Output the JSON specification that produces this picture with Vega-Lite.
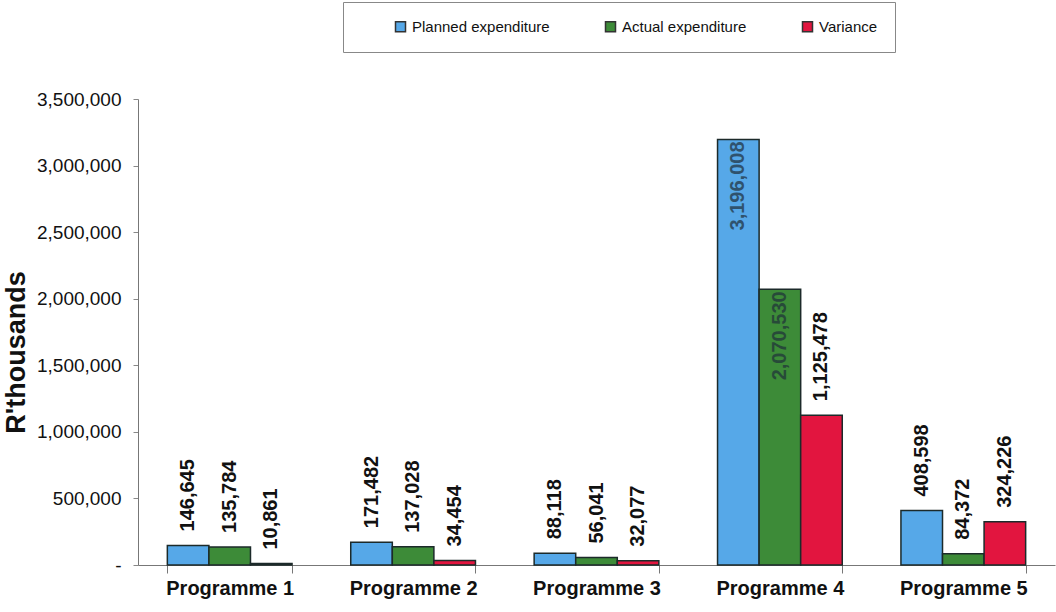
{
  "$schema": "https://vega.github.io/schema/vega-lite/v6.json",
  "width": 917,
  "height": 466,
  "autosize": {"type": "none"},
  "padding": {"left": 138, "top": 99, "right": 1, "bottom": 47},
  "background": "white",
  "config": {
    "view": {"stroke": null},
    "font": "Liberation Sans"
  },
  "data": {
    "values": [
      {"programme": "Programme 1", "series": "Planned expenditure", "value": 146645},
      {"programme": "Programme 1", "series": "Actual expenditure", "value": 135784},
      {"programme": "Programme 1", "series": "Variance", "value": 10861},
      {"programme": "Programme 2", "series": "Planned expenditure", "value": 171482},
      {"programme": "Programme 2", "series": "Actual expenditure", "value": 137028},
      {"programme": "Programme 2", "series": "Variance", "value": 34454},
      {"programme": "Programme 3", "series": "Planned expenditure", "value": 88118},
      {"programme": "Programme 3", "series": "Actual expenditure", "value": 56041},
      {"programme": "Programme 3", "series": "Variance", "value": 32077},
      {"programme": "Programme 4", "series": "Planned expenditure", "value": 3196008},
      {"programme": "Programme 4", "series": "Actual expenditure", "value": 2070530},
      {"programme": "Programme 4", "series": "Variance", "value": 1125478},
      {"programme": "Programme 5", "series": "Planned expenditure", "value": 408598},
      {"programme": "Programme 5", "series": "Actual expenditure", "value": 84372},
      {"programme": "Programme 5", "series": "Variance", "value": 324226}
    ]
  },
  "encoding": {
    "x": {
      "field": "programme",
      "type": "nominal",
      "title": null,
      "scale": {"paddingInner": 0.32, "paddingOuter": 0.16},
      "axis": {
        "labelAngle": 0,
        "labelFont": "Liberation Sans",
        "labelFontSize": 20,
        "labelFontWeight": "bold",
        "labelColor": "#111111",
        "labelPadding": 5,
        "tickBand": "extent",
        "tickSize": 8,
        "tickColor": "#777777",
        "domainColor": "#777777",
        "grid": false
      }
    },
    "xOffset": {
      "field": "series",
      "type": "nominal",
      "sort": ["Planned expenditure", "Actual expenditure", "Variance"]
    },
    "y": {
      "field": "value",
      "type": "quantitative",
      "scale": {"domain": [0, 3500000], "nice": false},
      "axis": {
        "values": [0, 500000, 1000000, 1500000, 2000000, 2500000, 3000000, 3500000],
        "labelExpr": "datum.value === 0 ? '-' : format(datum.value, ',')",
        "labelFont": "Liberation Sans",
        "labelFontSize": 19,
        "labelColor": "#111111",
        "labelPadding": 12,
        "tickSize": 5,
        "tickColor": "#888888",
        "domainColor": "#777777",
        "grid": false,
        "title": "R'thousands",
        "titleFont": "Liberation Sans",
        "titleFontSize": 27,
        "titleFontWeight": "bold",
        "titleColor": "#111111",
        "titleAngle": 270,
        "titleAlign": "center",
        "titleBaseline": "middle",
        "titleX": -122,
        "titleY": 253
      }
    }
  },
  "layer": [
    {
      "mark": {"type": "bar", "stroke": "#1c2a2a", "strokeWidth": 1.5},
      "encoding": {
        "color": {
          "field": "series",
          "type": "nominal",
          "sort": ["Planned expenditure", "Actual expenditure", "Variance"],
          "scale": {
            "domain": ["Planned expenditure", "Actual expenditure", "Variance"],
            "range": ["#56a8e8", "#3d8b38", "#e2153f"]
          },
          "legend": {
            "orient": "none",
            "legendX": 205,
            "legendY": -97,
            "direction": "horizontal",
            "title": null,
            "symbolType": "square",
            "symbolSize": 100,
            "symbolStrokeColor": "#333333",
            "symbolStrokeWidth": 1.5,
            "symbolOpacity": 1,
            "labelFont": "Liberation Sans",
            "labelFontSize": 15,
            "labelColor": "#111111",
            "labelOffset": 4,
            "padding": 17,
            "symbolOffset": 33,
            "columnPadding": 20,
            "strokeColor": "#888888",
            "fillColor": "white"
          }
        }
      }
    },
    {
      "transform": [{"filter": "datum.value <= 2000000"}],
      "mark": {
        "type": "text",
        "angle": 270,
        "align": "left",
        "baseline": "middle",
        "dx": 14,
        "font": "Liberation Sans",
        "fontSize": 20,
        "fontWeight": "bold",
        "color": "#111111"
      },
      "encoding": {
        "text": {"field": "value", "type": "quantitative", "format": ","}
      }
    },
    {
      "transform": [{"filter": "datum.value > 2000000"}],
      "mark": {
        "type": "text",
        "angle": 270,
        "align": "right",
        "baseline": "middle",
        "dx": -2,
        "font": "Liberation Sans",
        "fontSize": 20,
        "fontWeight": "bold",
        "color": "#1f2f3a",
        "opacity": 0.7
      },
      "encoding": {
        "text": {"field": "value", "type": "quantitative", "format": ","}
      }
    }
  ]
}
